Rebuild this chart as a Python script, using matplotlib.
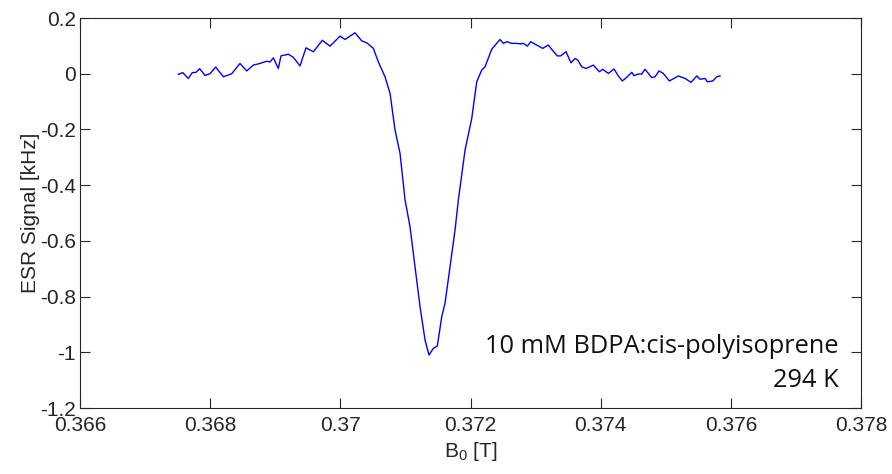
import numpy as np
import matplotlib
matplotlib.use('Agg')
from matplotlib import pyplot as plt

# field (T) and ESR signal (kHz)
b0 = [0.367510, 0.367578, 0.367664, 0.367725, 0.367782, 0.367839, 0.367921, 0.367997,
      0.368085, 0.368202, 0.368331, 0.368458, 0.368561, 0.368663, 0.368766, 0.368869,
      0.368919, 0.368970, 0.369047, 0.369088, 0.369201, 0.369277, 0.369380, 0.369472,
      0.369585, 0.369723, 0.369841, 0.369995, 0.370072, 0.370225, 0.370328, 0.370405,
      0.370507, 0.370583, 0.370686, 0.370763, 0.370840, 0.370917, 0.370994, 0.371070,
      0.371147, 0.371224, 0.371301, 0.371362, 0.371428, 0.371490, 0.371558, 0.371608,
      0.371685, 0.371762, 0.371813, 0.371916, 0.372019, 0.372095, 0.372172, 0.372223,
      0.372326, 0.372453, 0.372504, 0.372556, 0.372633, 0.372710, 0.372761, 0.372811,
      0.372873, 0.372925, 0.373017, 0.373109, 0.373195, 0.373263, 0.373334, 0.373386,
      0.373467, 0.373544, 0.373606, 0.373647, 0.373709, 0.373775, 0.373887, 0.373979,
      0.374031, 0.374117, 0.374205, 0.374271, 0.374332, 0.374409, 0.374477, 0.374512,
      0.374578, 0.374630, 0.374681, 0.374784, 0.374835, 0.374896, 0.374962, 0.375055,
      0.375193, 0.375296, 0.375388, 0.375476, 0.375526, 0.375603, 0.375639, 0.375722,
      0.375783, 0.375834]
esr = [-0.002, 0.004, -0.017, 0.004, 0.005, 0.018, -0.006, 0.000,
       0.024, -0.011, 0.000, 0.037, 0.010, 0.031, 0.037, 0.045,
       0.042, 0.057, 0.019, 0.064, 0.070, 0.059, 0.028, 0.093,
       0.079, 0.120, 0.099, 0.135, 0.123, 0.147, 0.118, 0.111,
       0.091, 0.043, -0.011, -0.070, -0.202, -0.286, -0.453, -0.549,
       -0.693, -0.836, -0.956, -1.010, -0.986, -0.977, -0.872, -0.824,
       -0.693, -0.561, -0.453, -0.274, -0.160, -0.029, 0.013, 0.025,
       0.088, 0.123, 0.109, 0.115, 0.109, 0.109, 0.107, 0.109,
       0.099, 0.115, 0.103, 0.091, 0.103, 0.083, 0.064, 0.064,
       0.079, 0.039, 0.055, 0.049, 0.025, 0.019, 0.031, 0.007,
       0.016, 0.001, 0.017, -0.008, -0.026, -0.011, 0.005, -0.007,
       -0.001, -0.001, 0.016, -0.014, -0.011, 0.010, 0.001, -0.026,
       -0.008, -0.017, -0.031, -0.008, -0.020, -0.017, -0.029, -0.026,
       -0.011, -0.008]

xticks = [0.366, 0.368, 0.37, 0.372, 0.374, 0.376, 0.378]
xticklabels = ['0.366', '0.368', '0.37', '0.372', '0.374', '0.376', '0.378']
yticks = [0.2, 0, -0.2, -0.4, -0.6, -0.8, -1, -1.2]
yticklabels = ['0.2', '0', '-0.2', '-0.4', '-0.6', '-0.8', '-1', '-1.2']

plt.rcParams['font.family'] = ['Liberation Sans', 'DejaVu Sans']
plt.rcParams['mathtext.fontset'] = 'custom'
plt.rcParams['mathtext.rm'] = 'Liberation Sans'
plt.rcParams['mathtext.it'] = 'Liberation Sans:italic'

fig = plt.figure(figsize=(8.92, 4.74), dpi=100)
ax = fig.add_axes([0.0897, 0.1392, 0.8756, 0.8228])

ax.plot(b0, esr, color='#0000ff', lw=1.0)

ax.set_xlim(0.366, 0.378)
ax.set_ylim(-1.2, 0.2)
ax.set_xticks(xticks)
ax.set_xticklabels(xticklabels)
ax.set_yticks(yticks)
ax.set_yticklabels(yticklabels)

ax.tick_params(direction='in', length=7, width=0.8, colors='#262626',
               labelsize=15, top=True, right=True)
ax.tick_params(axis='x', pad=6)
ax.tick_params(axis='y', pad=3)
for s in ax.spines.values():
    s.set_color('#262626')
    s.set_linewidth(0.8)

ax.set_xlabel(r'B$_0$ [T]', fontsize=15, color='#262626', labelpad=3)
ax.set_ylabel('ESR Signal [kHz]', fontsize=15, color='#262626', labelpad=0)

ax.text(0.37766, -1.003, '10 mM BDPA:cis-polyisoprene', ha='right', va='baseline',
        fontsize=18.3, family=['Open Sans', 'DejaVu Sans'], color='#111111')
ax.text(0.37766, -1.125, '294 K', ha='right', va='baseline',
        fontsize=18.3, family=['Open Sans', 'DejaVu Sans'], color='#111111')

fig.savefig('out.png', dpi=100)
